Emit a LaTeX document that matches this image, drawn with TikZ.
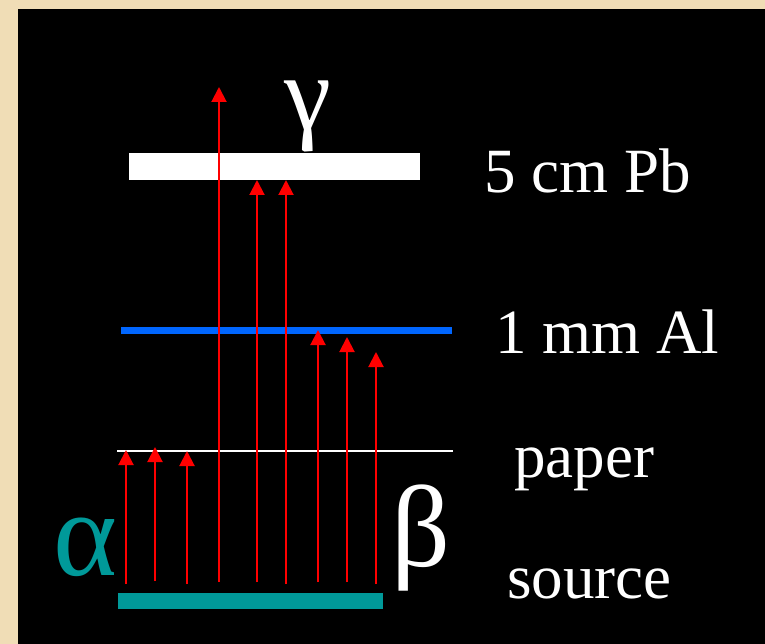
\documentclass[tikz,border=0pt]{standalone}
\usepackage{fontspec}
\setmainfont{Liberation Serif}
\usepackage{tikz}
\usetikzlibrary{arrows.meta}
\definecolor{frameback}{HTML}{F0DDB6}
\definecolor{shieldblue}{HTML}{0066FF}
\definecolor{sourceteal}{HTML}{009999}
\definecolor{rayred}{HTML}{FF0000}
\tikzset{
  shieldlabel/.style={
    anchor=base west,
    inner sep=0pt,
    text=white,
    font=\fontsize{63}{70}\selectfont
  },
  greeklabel/.style={
    anchor=base,
    inner sep=0pt,
    font=\fontsize{116}{120}\selectfont
  },
  rayarrow/.style={-{Triangle[width=15pt,length=15pt]}, line width=2pt, draw=rayred}
}

\begin{document}
\begin{tikzpicture}[x=1pt,y=-1pt]
\fill[frameback] (0,0) rectangle (765,644);
\fill[black] (18,9) rectangle (765,644);
\useasboundingbox (0,0) rectangle (765,644);

% absorbers
\fill[white] (129,153) rectangle (420,180);
\fill[shieldblue] (121,327) rectangle (452,334);
\draw[white, line width=2pt] (117,451) -- (453,451);
\fill[sourceteal] (118,593) rectangle (383,609);

% labels
\node[shieldlabel] (pb) at (484,193) {5 cm Pb};
\node[shieldlabel] (al) at (495,353) {1 mm Al};
\node[shieldlabel] (paper) at (514,477) {paper};
\node[shieldlabel] (source) at (507,598) {source};
\node[greeklabel, text=white, font=\fontsize{106}{110}\selectfont] (gamma) at (308,130) {γ};
\node[greeklabel, text=sourceteal, font=\fontsize{122}{126}\selectfont] (alpha) at (85,575) {α};
\node[greeklabel, text=white] (beta) at (421,566) {β};

% ray ends
\coordinate (a1s) at (126,584); \coordinate (a1e) at (126,450);
\coordinate (a2s) at (155,581); \coordinate (a2e) at (155,447);
\coordinate (a3s) at (187,584); \coordinate (a3e) at (187,451);
\coordinate (g1s) at (219,582); \coordinate (g1e) at (219,87);
\coordinate (g2s) at (257,582); \coordinate (g2e) at (257,180);
\coordinate (g3s) at (286,584); \coordinate (g3e) at (286,180);
\coordinate (b1s) at (318,582); \coordinate (b1e) at (318,330);
\coordinate (b2s) at (347,582); \coordinate (b2e) at (347,337);
\coordinate (b3s) at (376,584); \coordinate (b3e) at (376,352);

% rays
\draw[rayarrow] (a1s) -- (a1e);
\draw[rayarrow] (a2s) -- (a2e);
\draw[rayarrow] (a3s) -- (a3e);
\draw[rayarrow] (g1s) -- (g1e);
\draw[rayarrow] (g2s) -- (g2e);
\draw[rayarrow] (g3s) -- (g3e);
\draw[rayarrow] (b1s) -- (b1e);
\draw[rayarrow] (b2s) -- (b2e);
\draw[rayarrow] (b3s) -- (b3e);
\end{tikzpicture}
\end{document}
